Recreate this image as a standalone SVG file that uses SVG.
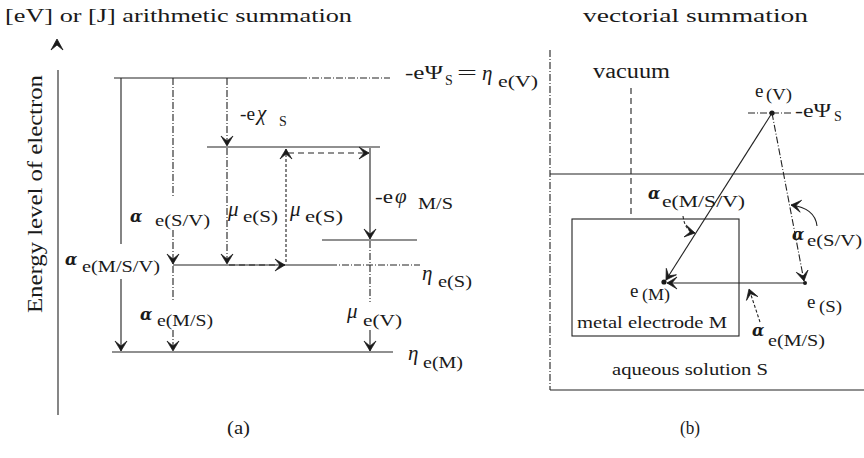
<svg xmlns="http://www.w3.org/2000/svg" width="864" height="458" viewBox="0 0 864 458">
<defs>
<style>
.t{font-family:"Liberation Serif","DejaVu Serif",serif;fill:#1a1a1a}
.m{font-size:19px}
.s{font-size:16px}
.g{font-family:"Liberation Serif","DejaVu Serif",serif;font-style:italic;font-size:21px;fill:#1a1a1a}
.a{font-family:"DejaVu Serif","Liberation Serif",serif;font-style:italic;font-weight:bold;font-size:16px;fill:#1a1a1a}
.ln{stroke:#222;stroke-width:1.1;fill:none}
.d{stroke-dasharray:7 2 1 2}
.dd{stroke-dasharray:6 4}
.dt{stroke-dasharray:3 2}
.ar{marker-end:url(#ah)}
</style>
<marker id="ah" viewBox="-11 -7 13 14" refX="0" refY="0" markerWidth="13" markerHeight="14" orient="auto" markerUnits="userSpaceOnUse">
<path d="M0,0 L-10,-6 L-5,0 L-10,6 Z" fill="#1a1a1a" stroke="#1a1a1a" stroke-width="0.7"/>
</marker>
</defs>
<rect width="864" height="458" fill="#fff"/>

<!-- Panel (a) -->
<g id="panel-a">
<text class="t" font-size="19" x="5" y="22" textLength="347" lengthAdjust="spacingAndGlyphs">[eV] or [J] arithmetic summation</text>
<g id="axis">
<path class="ln" d="M58,70 V415"/>
<path d="M57,39 L51,50 L57,45 L63,50 Z" fill="#1a1a1a" stroke="#1a1a1a" stroke-width="0.8"/>
<text class="t" font-size="21" text-anchor="middle" transform="translate(42,194) rotate(-90)" textLength="238" lengthAdjust="spacingAndGlyphs">Energy level of electron</text>
</g>
<g id="level-vacuum">
<path class="ln" d="M114,78 H300"/>
<path class="ln d" d="M300,78 H390"/>
<text class="t m" x="405" y="79" textLength="38" lengthAdjust="spacingAndGlyphs">-eΨ</text>
<text class="t" font-size="14" x="445" y="85">S</text>
<text class="t m" x="457" y="79" textLength="20" lengthAdjust="spacingAndGlyphs">=</text>
<text class="g" x="482" y="80">η</text>
<text class="t s" x="498" y="87" textLength="40" lengthAdjust="spacingAndGlyphs">e(V)</text>
</g>
<g id="level-chi">
<path class="ln" d="M207,147 H380"/>
</g>
<g id="level-phi">
<path class="ln" d="M322,240 H417"/>
</g>
<g id="level-eta-S">
<path class="ln" d="M173,265 H330"/>
<path class="ln d" d="M330,265 H420"/>
<text class="g" x="422" y="280">η</text>
<text class="t s" x="438" y="287" textLength="34" lengthAdjust="spacingAndGlyphs">e(S)</text>
</g>
<g id="level-eta-M">
<path class="ln" d="M112,352 H393"/>
<text class="g" x="408" y="360">η</text>
<text class="t s" x="423" y="368" textLength="40" lengthAdjust="spacingAndGlyphs">e(M)</text>
</g>
<g id="labels-a">
<text class="t m" x="240" y="120" textLength="15" lengthAdjust="spacingAndGlyphs">-e</text>
<text class="g" x="257" y="120">χ</text>
<text class="t" font-size="14" x="279" y="126">S</text>
<text class="a" x="130" y="222">α</text>
<text class="t s" x="155" y="226" textLength="55" lengthAdjust="spacingAndGlyphs">e(S/V)</text>
<text class="a" x="65" y="265">α</text>
<text class="t s" x="82" y="272" textLength="78" lengthAdjust="spacingAndGlyphs">e(M/S/V)</text>
<text class="g" x="228" y="216">μ</text>
<text class="t s" x="243" y="222" textLength="35" lengthAdjust="spacingAndGlyphs">e(S)</text>
<text class="g" x="290" y="216">μ</text>
<text class="t s" x="305" y="222" textLength="38" lengthAdjust="spacingAndGlyphs">e(S)</text>
<text class="t m" x="375" y="203" textLength="18" lengthAdjust="spacingAndGlyphs">-e</text>
<text class="g" x="395" y="203">φ</text>
<text class="t s" x="418" y="209" textLength="35" lengthAdjust="spacingAndGlyphs">M/S</text>
<text class="g" x="347" y="318">μ</text>
<text class="t s" x="363" y="326" textLength="39" lengthAdjust="spacingAndGlyphs">e(V)</text>
<text class="a" x="140" y="320">α</text>
<text class="t s" x="157" y="326" textLength="56" lengthAdjust="spacingAndGlyphs">e(M/S)</text>
</g>
<text class="t m" x="227" y="434" textLength="23" lengthAdjust="spacingAndGlyphs">(a)</text>
</g>

<g id="connectors-a">
<path class="ln ar" d="M121,78 V244 M121,279 V351"/>
<path class="ln d ar" d="M173,78 V196 M173,230 V264"/>
<path class="ln d ar" d="M173,266 V302 M173,330 V351"/>
<path class="ln d ar" d="M227,78 V146"/>
<path class="ln d ar" d="M227,148 V264"/>
<path class="ln dd ar" d="M229,265 H285"/>
<path class="ln dt ar" d="M286,262 V149"/>
<path class="ln dd ar" d="M288,153 H369"/>
<path class="ln ar" d="M370,148 V239"/>
<path class="ln d" d="M370,241 V302"/>
<path class="ln ar" d="M370,330 V351"/>
</g>

<!-- Panel (b) -->
<g id="panel-b">
<text class="t" font-size="19" x="583" y="22" textLength="225" lengthAdjust="spacingAndGlyphs">vectorial summation</text>
<g id="region-vacuum">
<path class="ln d" d="M550,50 V390"/>
<path class="ln" d="M550,174 H864"/>
<path class="ln dd" d="M631,88 V214"/>
<text class="t" font-size="20" x="593" y="78" textLength="77" lengthAdjust="spacingAndGlyphs">vacuum</text>
</g>
<g id="region-solution">
<path class="ln" d="M550,390 H864"/>
<text class="t" font-size="17" x="612" y="375" textLength="156" lengthAdjust="spacingAndGlyphs">aqueous solution S</text>
</g>
<g id="electrode-M">
<rect class="ln" x="572" y="219" width="167" height="117"/>
<text class="t" font-size="17" x="577" y="328" textLength="150" lengthAdjust="spacingAndGlyphs">metal electrode M</text>
</g>
<g id="e-V">
<path class="ln d" d="M748,113 H793"/>
<circle cx="772" cy="113" r="2.6" fill="#1a1a1a"/>
<text class="t m" x="755" y="97">e</text>
<text class="t s" x="766" y="100" textLength="26" lengthAdjust="spacingAndGlyphs">(V)</text>
<text class="t m" x="795" y="117" textLength="36" lengthAdjust="spacingAndGlyphs">-eΨ</text>
<text class="t" font-size="14" x="834" y="121">S</text>
</g>
<g id="e-M">
<circle cx="664" cy="282" r="2.6" fill="#1a1a1a"/>
<text class="t m" x="630" y="297">e</text>
<text class="t s" x="642" y="300" textLength="28" lengthAdjust="spacingAndGlyphs">(M)</text>
</g>
<g id="e-S">
<circle cx="805" cy="283" r="2" fill="#1a1a1a"/>
<text class="t m" x="807" y="308">e</text>
<text class="t s" x="819" y="312" textLength="23" lengthAdjust="spacingAndGlyphs">(S)</text>
</g>
<g id="labels-b">
<text class="a" x="648" y="199">α</text>
<text class="t s" x="662" y="207" textLength="83" lengthAdjust="spacingAndGlyphs">e(M/S/V)</text>
<text class="a" x="792" y="240">α</text>
<text class="t s" x="807" y="246" textLength="55" lengthAdjust="spacingAndGlyphs">e(S/V)</text>
<text class="a" x="752" y="336">α</text>
<text class="t s" x="768" y="346" textLength="57" lengthAdjust="spacingAndGlyphs">e(M/S)</text>
</g>
<text class="t m" x="680" y="434" textLength="20" lengthAdjust="spacingAndGlyphs">(b)</text>
</g>

<g id="connectors-b">
<path class="ln ar" d="M772,113 L666,280"/>
<path class="ln d ar" d="M772,113 L804,281"/>
<path class="ln ar" d="M805,283 L667,283"/>
<path class="ln dt ar" d="M683,216 Q685,231 695,233"/>
<path class="ln ar" d="M817,226 Q815,208 791,205"/>
<path class="ln dt ar" d="M760,322 L749,289"/>
</g>
</svg>
